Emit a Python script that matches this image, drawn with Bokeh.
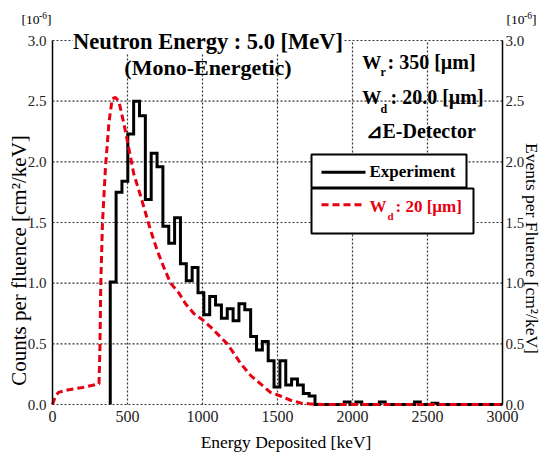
import math
from bokeh.plotting import figure
from bokeh.models import Label, BoxAnnotation, FixedTicker, Range1d, LinearAxis, NumeralTickFormatter
from bokeh.embed import file_html
from bokeh.resources import INLINE

# ---- data ----
exp_edges = [385, 424, 463, 502, 541, 580, 619, 658, 697, 736, 775, 814, 853, 892,
             931, 970, 1009, 1048, 1087, 1126, 1165, 1204, 1243, 1282, 1321, 1360,
             1399, 1438, 1477, 1516, 1555, 1594, 1633, 1672, 1711, 1750, 1945, 1984,
             2023, 2062, 2179, 2218, 2413, 2452, 2530, 2569, 3000]
exp_values = [1.01, 1.75, 1.84, 2.23, 2.50, 2.38, 1.69, 2.07, 1.96, 1.47, 1.33, 1.54,
              1.16, 1.02, 1.13, 0.92, 0.74, 0.89, 0.82, 0.71, 0.79, 0.69, 0.83, 0.78,
              0.56, 0.45, 0.52, 0.36, 0.145, 0.36, 0.16, 0.21, 0.16, 0.09, 0.07, 0.0,
              0.02, 0.0, 0.02, 0.0, 0.02, 0.0, 0.02, 0.0, 0.01, 0.0]

sim_energy = [0, 20, 40, 100, 200, 310, 316, 322, 333, 353, 376, 398, 420, 442, 475,
              509, 542, 587, 620, 653, 698, 742, 787, 842, 887, 942, 998, 1053, 1109,
              1165, 1210, 1253, 1320, 1387, 1453, 1520, 1587, 1653, 1720, 1800, 3000]
sim_values = [0, 0.07, 0.10, 0.12, 0.14, 0.17, 0.45, 1.0, 1.49, 1.95, 2.32, 2.52, 2.53,
              2.50, 2.32, 2.11, 1.90, 1.72, 1.58, 1.44, 1.27, 1.13, 1.00, 0.92, 0.83,
              0.75, 0.70, 0.64, 0.57, 0.50, 0.42, 0.34, 0.24, 0.17, 0.10, 0.07, 0.035,
              0.013, 0.005, 0.0, 0.0]

x_ticks = [0, 500, 1000, 1500, 2000, 2500, 3000]
y_ticks = [0.0, 0.5, 1.0, 1.5, 2.0, 2.5, 3.0]

FONT = "Liberation Serif"
RED = "#e60012"
GRID = "#333333"

W, H = 543, 454
FL, FR, FT, FB = 52, 502, 40, 404          # plotting box (pixels)
XMIN, XMAX, YMIN, YMAX = 0, 3000, 0.0, 3.0
XPX = (FR - FL) / (XMAX - XMIN)
YPX = (FB - FT) / (YMAX - YMIN)

# the frame spans the whole canvas; axes are pinned at the data box edges
p = figure(width=W, height=H,
           x_range=Range1d(XMIN - FL / XPX, XMAX + (W - FR) / XPX),
           y_range=Range1d(YMIN - (H - FB) / YPX, YMAX + FT / YPX),
           output_backend="svg", toolbar_location=None,
           min_border_left=0, min_border_right=0, min_border_top=0, min_border_bottom=0)
p.outline_line_color = None
p.background_fill_color = "white"
p.border_fill_color = "white"
p.xgrid.visible = False
p.ygrid.visible = False


def style_axis(ax, size):
    ax.major_tick_in = 0
    ax.major_tick_out = 0
    ax.minor_tick_in = 0
    ax.minor_tick_out = 0
    ax.major_label_standoff = 6
    ax.major_label_text_font = FONT
    ax.major_label_text_font_size = f"{size}px"
    ax.major_label_text_color = "#222222"


bx = p.xaxis[0]
style_axis(bx, 16)
bx.ticker = FixedTicker(ticks=x_ticks)
bx.fixed_location = YMIN
bx.bounds = (XMIN, XMAX)
bx.axis_line_color = None

ly = p.yaxis[0]
style_axis(ly, 15)
ly.ticker = FixedTicker(ticks=y_ticks)
ly.formatter = NumeralTickFormatter(format="0.0")
ly.fixed_location = XMIN
ly.bounds = (YMIN, YMAX)
ly.axis_line_color = "black"
ly.axis_line_width = 1.5

ry = LinearAxis(ticker=FixedTicker(ticks=y_ticks), formatter=NumeralTickFormatter(format="0.0"))
style_axis(ry, 15)
ry.major_label_standoff = 3
ry.fixed_location = XMAX
ry.bounds = (YMIN, YMAX)
ry.axis_line_color = "black"
ry.axis_line_width = 1.5
p.add_layout(ry, "right")

# grid (dotted), limited to the data box
vx = x_ticks[1:-1]
p.segment(x0=vx, y0=[YMIN] * len(vx), x1=vx, y1=[YMAX] * len(vx),
          line_color=GRID, line_dash="2 2", line_width=1.2)
p.segment(x0=[XMIN] * len(y_ticks), y0=y_ticks, x1=[XMAX] * len(y_ticks), y1=y_ticks,
          line_color=GRID, line_dash="2 2", line_width=1.2)

# experiment histogram (step)
xs = [exp_edges[0]]
ys = [0.0]
for i, v in enumerate(exp_values):
    xs += [exp_edges[i], exp_edges[i + 1]]
    ys += [v, v]
p.line(xs, ys, line_color="black", line_width=3, line_join="miter")

# simulation
p.line(sim_energy, sim_values, line_color=RED, line_width=3, line_dash="7 4")


def dx(px):
    return XMIN + (px - FL) / XPX


def dy(py):
    return YMIN + (FB - py) / YPX


def lab(txt, px, baseline_py, size, bold=False, color="black", align="left",
        angle=0.0, bg=None, tb="alphabetic", comp=True):
    """Text placed by canvas pixel position (x from left, baseline y from top)."""
    off = 0.41 * size if comp else 0.0
    l = Label(x=dx(px), y=dy(baseline_py - off), x_units="data", y_units="data",
              text=txt, text_font=FONT, text_font_size=f"{size}px",
              text_font_style="bold" if bold else "normal",
              text_color=color, text_align=align, text_baseline=tb,
              angle=angle, background_fill_color=bg)
    p.add_layout(l)


# legend boxes
p.add_layout(BoxAnnotation(left=dx(311), right=dx(466), top=dy(154), bottom=dy(187),
                           fill_color="white", fill_alpha=1.0,
                           line_color="black", line_width=2, line_alpha=1.0))
p.add_layout(BoxAnnotation(left=dx(311), right=dx(473), top=dy(188), bottom=dy(233),
                           fill_color="white", fill_alpha=1.0,
                           line_color="black", line_width=2, line_alpha=1.0))
p.line([dx(321), dx(365)], [dy(171.7), dy(171.7)], line_color="black", line_width=3,
       level="overlay")
p.line([dx(321), dx(365)], [dy(204.3), dy(204.3)], line_color=RED, line_width=3,
       line_dash="7 4", level="overlay")
lab("Experiment", 369, 178, 17, bold=True)
lab("W", 369, 213, 17, bold=True, color=RED)
lab("d", 387, 220, 11, bold=True, color=RED)
lab(": 20 [µm]", 395, 213, 17, bold=True, color=RED)

# titles
lab("Neutron Energy : 5.0 [MeV]", 207.5, 50, 22.5, bold=True, align="center", bg="white")
lab("(Mono-Energetic)", 207.5, 76, 22, bold=True, align="center")

lab("W", 361.7, 69.3, 19, bold=True)
lab("r", 380, 76.7, 12, bold=True)
lab(": 350 [µm]", 387, 69.3, 20, bold=True)
lab("W", 361.7, 105, 19, bold=True)
lab("d", 380, 113, 12, bold=True)
lab(": 20.0 [µm]", 390, 105, 20, bold=True)
lab("⊿E-Detector", 365, 139, 20, bold=True)

# unit multipliers  [10^-6]
for x0 in (21, 506):
    lab("[10", x0, 25, 13.5)
    lab("-6", x0 + 17.5, 19, 9.5)
    lab("]", x0 + 25.5, 25, 13.5)

# axis titles
lab("Counts per fluence [cm²/keV]", 18, 260, 21, align="center", angle=math.pi / 2,
    tb="middle", comp=False)
lab("Events per Fluence [cm²/keV]", 531.5, 248, 17.5, align="center", angle=-math.pi / 2,
    tb="middle", comp=False)
lab("Energy Deposited [keV]", 285.5, 449, 17.5, align="center")

open("out.html", "w").write(file_html(p, INLINE))
